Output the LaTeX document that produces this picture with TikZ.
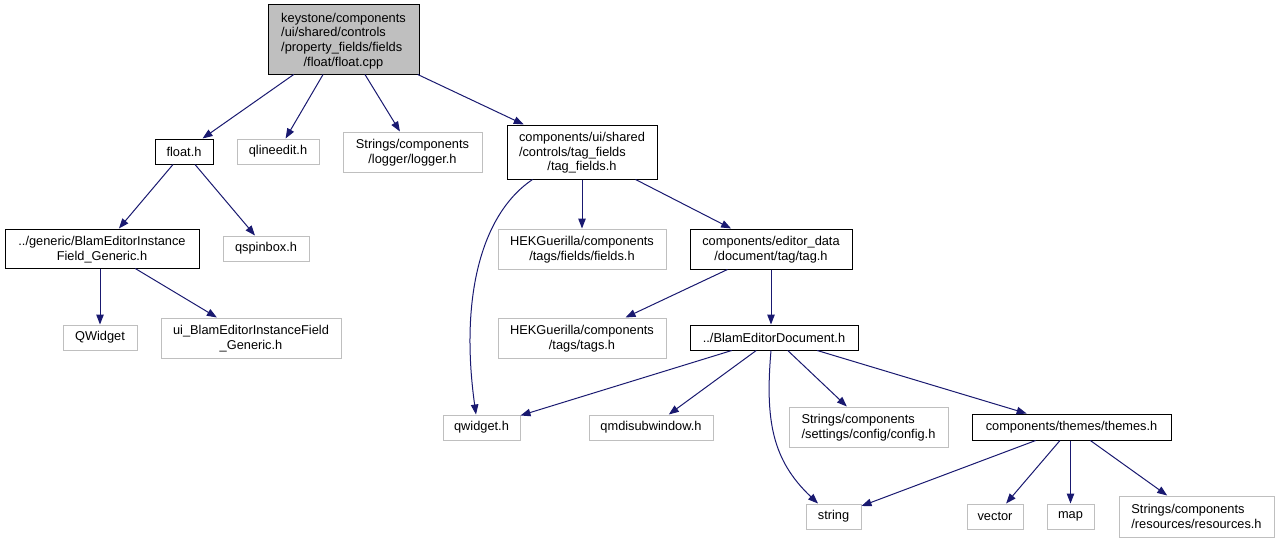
\documentclass[tikz,border=0pt]{standalone}
\usepackage{fontspec}
\setmainfont{Liberation Sans}
\usetikzlibrary{arrows.meta}
\definecolor{edgecol}{HTML}{191970}
\definecolor{graybox}{HTML}{BFBFBF}
\newcommand{\dlines}[2]{\raisebox{-1.3pt}[\height][\depth]{\begin{tabular}{@{}l@{}}#1\\\multicolumn{1}{@{}c@{}}{#2}\end{tabular}}}
\tikzset{
  base/.style={rectangle, inner sep=0pt, font=\fontsize{12.8}{14.7}\selectfont, text=black},
  docnode/.style={base, draw=black, line width=1pt, fill=white},
  extnode/.style={base, draw=graybox, line width=1pt, fill=white},
  rootnode/.style={base, draw=black, line width=1pt, fill=graybox},
  dep/.style={draw=edgecol, line width=1pt, -{Triangle[length=10pt,width=7.5pt]}},
}
\begin{document}
\begin{tikzpicture}[x=1pt,y=-1pt]
\useasboundingbox (0,0) rectangle (1279,543);
\node[rootnode, minimum width=151pt, minimum height=69pt] (root) at (343.5,39.5)
  {\raisebox{-1.8pt}[\height][\depth]{\begin{tabular}{@{}l@{}}keystone/components\\/ui/shared/controls\\/property\_fields/fields\\\multicolumn{1}{@{}c@{}}{/float/float.cpp}\end{tabular}}};
\node[docnode, minimum width=58pt, minimum height=25pt] (floath) at (184,151.5) {float.h};
\node[extnode, minimum width=82pt, minimum height=25pt] (qlineedit) at (278,151.5) {qlineedit.h};
\node[extnode, minimum width=139pt, minimum height=40pt] (logger) at (412.5,152) {\dlines{Strings/components}{/logger/logger.h}};
\node[docnode, minimum width=150pt, minimum height=54pt] (tagfields) at (582,152)
  {\raisebox{-1.3pt}[\height][\depth]{\begin{tabular}{@{}l@{}}components/ui/shared\\/controls/tag\_fields\\\multicolumn{1}{@{}c@{}}{/tag\_fields.h}\end{tabular}}};
\node[docnode, minimum width=194pt, minimum height=39pt] (beifg) at (102,248.5) {\dlines{../generic/BlamEditorInstance}{Field\_Generic.h}};
\node[extnode, minimum width=86pt, minimum height=25pt] (qspinbox) at (266,248.5) {qspinbox.h};
\node[extnode, minimum width=74pt, minimum height=25pt] (QWidget) at (100,337.5) {QWidget};
\node[extnode, minimum width=180pt, minimum height=40pt] (uiblam) at (251,338) {\dlines{ui\_BlamEditorInstanceField}{\_Generic.h}};
\node[extnode, minimum width=168pt, minimum height=40pt] (hekfields) at (582,249) {\dlines{HEKGuerilla/components}{/tags/fields/fields.h}};
\node[docnode, minimum width=162pt, minimum height=40pt] (tagh) at (771,249) {\dlines{components/editor\_data}{/document/tag/tag.h}};
\node[extnode, minimum width=168pt, minimum height=40pt] (hektags) at (582,338) {\dlines{HEKGuerilla/components}{/tags/tags.h}};
\node[docnode, minimum width=168pt, minimum height=25pt] (bed) at (774,337.5) {../BlamEditorDocument.h};
\node[extnode, minimum width=77pt, minimum height=25pt] (qwidgeth) at (481.5,427.5) {qwidget.h};
\node[extnode, minimum width=124pt, minimum height=25pt] (qmdi) at (651,427.5) {qmdisubwindow.h};
\node[extnode, minimum width=159pt, minimum height=40pt] (config) at (868.5,427) {\dlines{Strings/components}{/settings/config/config.h}};
\node[docnode, minimum width=199pt, minimum height=26pt] (themes) at (1071.5,427) {components/themes/themes.h};
\node[extnode, minimum width=55pt, minimum height=25pt] (string) at (833.5,516.5) {string};
\node[extnode, minimum width=56pt, minimum height=25pt] (vector) at (995,516.5) {vector};
\node[extnode, minimum width=47pt, minimum height=25pt] (map) at (1070.5,516.5) {map};
\node[extnode, minimum width=155pt, minimum height=41pt] (resources) at (1196.5,516.5) {\dlines{Strings/components}{/resources/resources.h}};

\coordinate (tfc) at ([xshift=26pt]tagfields.south west);
\coordinate (qwc) at (qwidgeth.north -| 476,0);
\coordinate (bedc) at (bed.south -| 771,0);
\coordinate (strc) at (string.north -| 818,0);

\draw[dep] (root) -- (floath);
\draw[dep] (root) -- (qlineedit);
\draw[dep] (root) -- (logger);
\draw[dep] (root) -- (tagfields);
\draw[dep] (floath) -- (beifg);
\draw[dep] (floath) -- (qspinbox);
\draw[dep] (beifg.south -| QWidget.north) -- (QWidget.north);
\draw[dep] (beifg) -- (uiblam);
\draw[dep] (tfc) .. controls (480,215) and (460,300) .. (qwc);
\draw[dep] (tagfields.south -| hekfields.north) -- (hekfields.north);
\draw[dep] (tagfields) -- (tagh);
\draw[dep] (tagh) -- (hektags);
\draw[dep] (tagh.south) -- (tagh.south |- bed.north);
\draw[dep] (bed) -- (qwidgeth);
\draw[dep] (bed) -- (qmdi);
\draw[dep] (bedc) .. controls (765,420) and (772,460) .. (strc);
\draw[dep] (bed) -- (config);
\draw[dep] (bed) -- (themes);
\draw[dep] (themes) -- (string);
\draw[dep] (themes) -- (vector);
\draw[dep] (themes.south -| map.north) -- (map.north);
\draw[dep] (themes) -- (resources);
\end{tikzpicture}
\end{document}
